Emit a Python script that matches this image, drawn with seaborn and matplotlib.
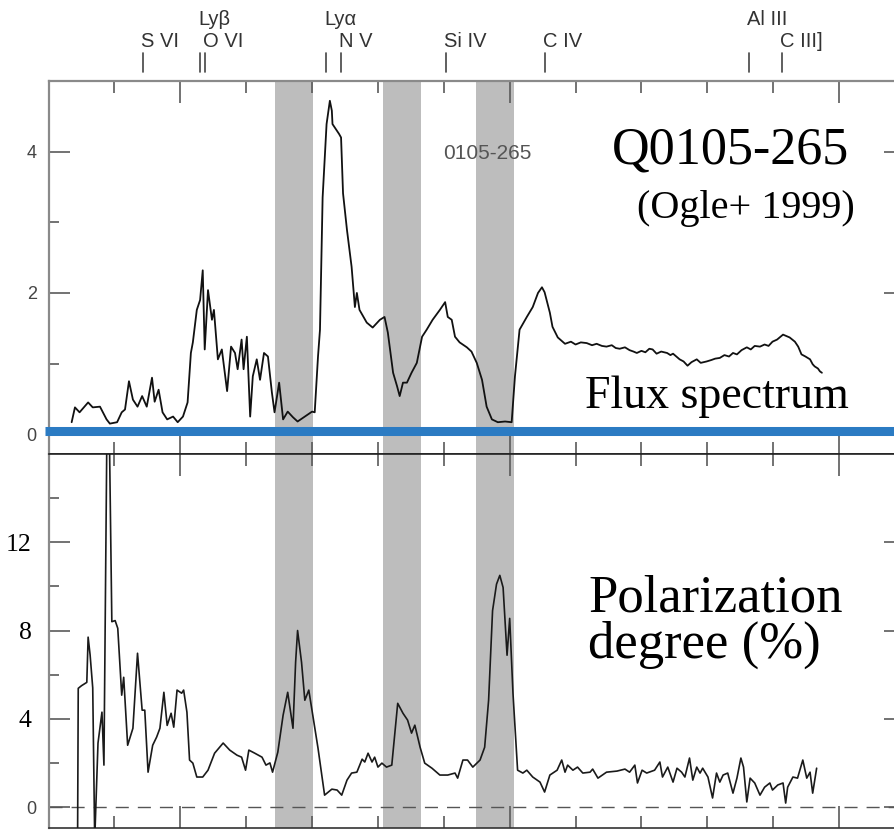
import matplotlib
matplotlib.use("Agg")
import matplotlib.pyplot as plt
from matplotlib.lines import Line2D
from matplotlib.ticker import MultipleLocator, FixedLocator
import matplotlib.transforms as mtransforms
import seaborn as sns

# ---- Q0105-265: rest-frame wavelength (Angstrom) vs. total flux ----
flux_wave = [835, 840, 847, 860, 867, 878, 888, 893, 904, 911, 916, 922, 928, 935, 942,
             949, 957, 961, 967, 973, 980, 989, 996, 1004, 1011, 1016, 1019, 1025, 1030,
             1034, 1037, 1042, 1048, 1051, 1057, 1063, 1071, 1077, 1083, 1087, 1093, 1096,
             1101, 1106, 1110, 1116, 1121, 1127, 1133, 1139, 1143, 1150, 1156, 1163, 1171,
             1178, 1189, 1200, 1204, 1209, 1212, 1216, 1222, 1227, 1230, 1231, 1241, 1244,
             1247, 1253, 1260, 1265, 1268, 1272, 1283, 1292, 1303, 1310, 1315, 1323, 1329,
             1333, 1338, 1344, 1351, 1359, 1367, 1374, 1383, 1394, 1402, 1406, 1412, 1417,
             1424, 1435, 1442, 1450, 1458, 1465, 1473, 1482, 1493, 1503, 1508, 1515, 1526,
             1535, 1543, 1549, 1553, 1561, 1565, 1573, 1584, 1593, 1600, 1608, 1617, 1625,
             1632, 1640, 1647, 1655, 1661, 1667, 1675, 1682, 1688, 1693, 1700, 1706, 1712,
             1717, 1723, 1730, 1739, 1744, 1748, 1753, 1758, 1764, 1770, 1776, 1784, 1790,
             1799, 1806, 1812, 1819, 1826, 1833, 1839, 1845, 1852, 1860, 1866, 1872, 1880,
             1887, 1893, 1899, 1906, 1911, 1915, 1920, 1925, 1933, 1938, 1943, 1949, 1956,
             1960, 1963, 1968, 1971, 1974]
flux_val = [0.17, 0.38, 0.31, 0.45, 0.38, 0.39, 0.21, 0.15, 0.17, 0.31, 0.35, 0.75, 0.49, 0.39, 0.54,
            0.39, 0.80, 0.46, 0.63, 0.31, 0.21, 0.25, 0.17, 0.25, 0.45, 1.15, 1.30, 1.76, 1.90,
            2.32, 1.20, 2.04, 1.62, 1.76, 1.06, 1.20, 0.61, 1.24, 1.15, 0.92, 1.34, 0.92,
            1.38, 0.25, 0.82, 1.06, 0.77, 1.15, 1.10, 0.59, 0.31, 0.73, 0.21, 0.32, 0.24,
            0.18, 0.25, 0.32, 0.31, 1.10, 1.48, 3.35, 4.39, 4.72, 4.58, 4.39, 4.25, 4.20,
            3.41, 2.89, 2.37, 1.80, 2.00, 1.76, 1.58, 1.51, 1.62, 1.66, 1.44, 0.87, 0.68,
            0.54, 0.73, 0.73, 0.87, 1.01, 1.38, 1.48, 1.62, 1.76, 1.87, 1.66, 1.62, 1.38,
            1.30, 1.23, 1.17, 1.01, 0.77, 0.39, 0.21, 0.17, 0.18, 0.17, 0.82, 1.48, 1.66,
            1.80, 2.00, 2.08, 2.01, 1.72, 1.52, 1.37, 1.28, 1.31, 1.27, 1.30, 1.29, 1.26,
            1.28, 1.25, 1.24, 1.26, 1.22, 1.21, 1.23, 1.19, 1.17, 1.15, 1.18, 1.16, 1.21,
            1.20, 1.14, 1.17, 1.15, 1.12, 1.14, 1.10, 1.06, 1.03, 0.97, 1.02, 1.06, 1.01,
            1.03, 1.05, 1.07, 1.08, 1.12, 1.10, 1.15, 1.13, 1.19, 1.23, 1.20, 1.25, 1.24,
            1.27, 1.25, 1.31, 1.34, 1.38, 1.41, 1.39, 1.37, 1.31, 1.24, 1.13, 1.10, 1.06,
            0.99, 0.96, 0.93, 0.89, 0.87]

# ---- polarization degree (%) ----
pol_wave = [844, 845, 850, 858, 860, 863, 867, 870, 875, 881, 884, 890, 896, 901, 905,
            911, 914, 920, 928, 935, 942, 946, 951, 958, 964, 969, 975, 980, 986, 990,
            995, 1002, 1005, 1010, 1014, 1019, 1025, 1034, 1042, 1052, 1065, 1075, 1086,
            1093, 1099, 1104, 1113, 1124, 1130, 1136, 1140, 1148, 1156, 1163, 1171, 1175,
            1178, 1184, 1189, 1195, 1201, 1209, 1219, 1230, 1238, 1245, 1253, 1260, 1268,
            1276, 1280, 1285, 1291, 1295, 1300, 1306, 1313, 1321, 1330, 1338, 1345, 1351,
            1356, 1364, 1371, 1382, 1394, 1406, 1417, 1421, 1429, 1436, 1444, 1455, 1462,
            1468, 1474, 1480, 1485, 1490, 1496, 1500, 1505, 1512, 1520, 1526, 1535, 1546,
            1553, 1561, 1572, 1579, 1584, 1588, 1596, 1603, 1611, 1622, 1626, 1634, 1647,
            1663, 1675, 1682, 1690, 1694, 1701, 1708, 1720, 1728, 1732, 1740, 1748, 1754,
            1761, 1766, 1773, 1778, 1784, 1789, 1793, 1801, 1808, 1814, 1819, 1824, 1831,
            1839, 1845, 1851, 1855, 1860, 1865, 1872, 1880, 1887, 1895, 1899, 1907, 1915,
            1919, 1922, 1930, 1937, 1945, 1951, 1956, 1960, 1966]
pol_val = [-1.5, 5.38, 5.5, 5.65, 7.7, 6.9, 5.4, -1.5, 2.9, 4.3, 1.9, 22.0, 8.4, 8.45, 8.1,
           5.07, 5.88, 2.8, 3.57, 6.97, 4.39, 4.39, 1.58, 2.8, 3.17, 3.57, 5.2, 3.7, 4.25, 3.62,
           5.3, 5.16, 5.3, 4.3, 2.13, 1.99, 1.36, 1.36, 1.67, 2.44, 2.9, 2.58, 2.35,
           2.26, 1.67, 2.58, 2.44, 2.26, 1.9, 2.0, 1.58, 2.49, 4.16, 5.2, 3.57, 6.56,
           8.0, 6.56, 4.84, 5.3, 4.16, 2.67, 0.54, 0.81, 0.77, 0.54, 1.22, 1.54, 1.58,
           2.17, 2.04, 2.44, 2.04, 2.26, 1.81, 1.99, 1.81, 1.9, 4.7, 4.25, 3.94, 3.35,
           3.71, 2.71, 1.99, 1.76, 1.45, 1.45, 1.54, 1.31, 2.13, 2.13, 1.81, 2.13, 2.71,
           4.84, 8.9, 10.1, 10.5, 9.95, 6.88, 8.55, 5.16, 1.67, 1.54, 1.67, 1.36, 1.13,
           0.68, 1.45, 1.67, 2.13, 1.58, 1.9, 1.67, 1.81, 1.54, 1.58, 1.72, 1.31, 1.58,
           1.63, 1.72, 1.58, 1.9, 1.09, 1.67, 1.54, 1.67, 2.04, 1.36, 1.81, 1.13, 1.76,
           1.58, 1.36, 2.22, 1.22, 1.81, 1.54, 1.76, 1.36, 0.41, 1.54, 1.13, 1.45, 1.54,
           0.63, 1.31, 2.22, 1.81, 0.23, 1.31, 1.09, 0.54, 0.9, 1.09, 0.77, 1.0, 1.09,
           0.18, 0.9, 1.36, 1.31, 2.13, 1.31, 1.58, 0.63, 1.76]

# Emission-line identifications along the top axis
line_wave = [943, 1030, 1038, 1221, 1244, 1403, 1553, 1863, 1913]
line_name = ["S VI", "Lyβ", "O VI", "Lyα", "N V", "Si IV", "C IV", "Al III", "C III]"]
line_row = [0, 1, 0, 1, 0, 0, 0, 1, 0]

# Wavelength windows highlighted across both panels
band_lo = [1144, 1307, 1449]
band_hi = [1202, 1366, 1507]

sns.set_theme(style="white")
plt.rcParams["font.family"] = ["Liberation Sans", "DejaVu Sans"]

W_PX, H_PX = 895, 831
fig = plt.figure(figsize=(W_PX / 100, H_PX / 100), dpi=100)

x0, x1 = 800, 2100
left = 48.6 / W_PX
width = (904.9 - 48.6) / W_PX
ax1 = fig.add_axes([left, (H_PX - 454) / H_PX, width, 373 / H_PX])
ax2 = fig.add_axes([left, (H_PX - 828) / H_PX, width, 374 / H_PX])

GRAY = "#8a8a8a"
TICK = "#5a5a5a"
BAND = "#bdbdbd"

for ax in (ax1, ax2):
    ax.set_xlim(x0, x1)
    ax.set_facecolor("white")
    for lo, hi in zip(band_lo, band_hi):
        ax.axvspan(lo, hi, color=BAND, lw=0, zorder=0.5)
    ax.axhline(0, color="#555555", lw=1.0, dashes=(9.4, 6.5), zorder=1)
    ax.xaxis.set_major_locator(MultipleLocator(500))
    ax.xaxis.set_minor_locator(MultipleLocator(100))
    ax.tick_params(axis="x", which="both", direction="in", top=True, bottom=True,
                   labelbottom=False, labeltop=False, color=TICK, width=1.2)
    ax.tick_params(axis="x", which="major", length=16)
    ax.tick_params(axis="x", which="minor", length=8.5)
    ax.tick_params(axis="y", which="both", direction="in", left=True, right=True,
                   color=TICK, width=1.2)
    ax.tick_params(axis="y", which="major", length=15)
    ax.tick_params(axis="y", which="minor", length=7.2)
    ax.spines["left"].set_color(GRAY)
    ax.spines["left"].set_linewidth(1.6)
    ax.spines["right"].set_color(GRAY)
    ax.spines["right"].set_linewidth(1.6)

# ---- upper panel: flux spectrum ----
sns.lineplot(x=flux_wave, y=flux_val, ax=ax1, color="#111111", linewidth=1.3,
             estimator=None, sort=False, zorder=3)
ax1.set_ylim(-0.28, 5.0)
ax1.yaxis.set_major_locator(FixedLocator([0, 2, 4]))
ax1.yaxis.set_minor_locator(FixedLocator([1, 3, 5]))
ax1.tick_params(axis="y", which="major", labelsize=13, labelcolor="#444444", pad=8.6)
ax1.spines["top"].set_color(GRAY)
ax1.spines["top"].set_linewidth(1.6)
ax1.spines["bottom"].set_color("#222222")
ax1.spines["bottom"].set_linewidth(1.2)

# line markers and names above the upper panel
mark_tr = mtransforms.blended_transform_factory(ax1.transData, ax1.transAxes)
for wl, name, row in zip(line_wave, line_name, line_row):
    ax1.add_line(Line2D([wl, wl], [1.024, 1.075], transform=mark_tr, color="#444444",
                        lw=1.2, clip_on=False))
    if row == 0 or name != "Lyβ":
        pass
    ax1.text(wl - 3, 1.092 if row == 0 else 1.150, name, transform=mark_tr,
             ha="left", va="baseline", fontsize=14.5, color="#333333")

ax1.text(1399, 3.98, "0105-265", ha="left", va="center", fontsize=15, color="#555555")
ax1.text(2016, 3.83, "Q0105-265", ha="right", va="baseline", fontsize=37.5,
         family="Liberation Serif", color="black")
ax1.text(2024, 3.06, "(Ogle+ 1999)", ha="right", va="baseline", fontsize=29,
         family="Liberation Serif", color="black")
ax1.text(2015, 0.37, "Flux spectrum", ha="right", va="baseline", fontsize=33,
         family="Liberation Serif", color="black")

# ---- lower panel: polarization degree ----
sns.lineplot(x=pol_wave, y=pol_val, ax=ax2, color="#1a1a1a", linewidth=1.2,
             estimator=None, sort=False, zorder=3)
ax2.set_ylim(-0.95, 16)
ax2.yaxis.set_major_locator(FixedLocator([0, 4, 8, 12]))
ax2.yaxis.set_minor_locator(FixedLocator([2, 6, 10, 14]))
ax2.set_yticklabels(["0", "4", "8", "12"])
ax2.spines["top"].set_color("#222222")
ax2.spines["top"].set_linewidth(1.2)
ax2.spines["bottom"].set_color("#333333")
ax2.spines["bottom"].set_linewidth(1.2)
for tick, val in zip(ax2.yaxis.get_major_ticks(), [0, 4, 8, 12]):
    if val == 0:
        tick.set_pad(8.6)
        tick.label1.set_fontsize(13)
        tick.label1.set_color("#444444")
    else:
        tick.set_pad(12.2)
        tick.label1.set_fontfamily("Liberation Serif")
        tick.label1.set_fontsize(18.5)
        tick.label1.set_color("black")

ax2.text(1619, 8.84, "Polarization", ha="left", va="baseline", fontsize=38,
         family="Liberation Serif", color="black")
ax2.text(1619, 6.75, "degree (%)", ha="left", va="baseline", fontsize=38,
         family="Liberation Serif", color="black")

for ax in (ax1, ax2):
    ax.set_xlabel("")
    ax.set_ylabel("")

# blue marker bar along the flux zero level
fig.add_artist(Line2D([45 / W_PX, 1.0], [(H_PX - 430.5) / H_PX] * 2,
                      transform=fig.transFigure, color="#2b7bc3", lw=6.5,
                      solid_capstyle="butt", zorder=10))

fig.savefig("out.png", dpi=100)
